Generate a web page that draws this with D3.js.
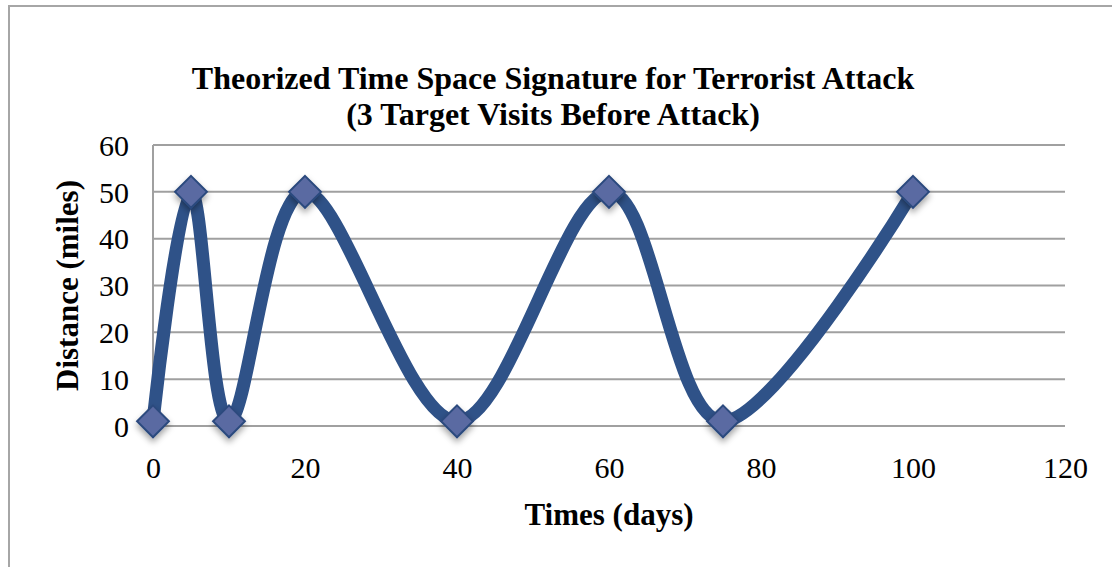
<!DOCTYPE html>
<html>
<head>
<meta charset="utf-8">
<script src="https://cdn.jsdelivr.net/npm/d3@7"></script>
<style>
  html, body { margin: 0; padding: 0; background: #fff; }
  svg { display: block; }
  text { font-family: "Liberation Serif", "Times New Roman", serif; fill: #000; }
</style>
</head>
<body>
<svg id="chart" width="1112" height="567"></svg>
<script>
const titleLines = ["Theorized Time Space Signature for Terrorist Attack", "(3 Target Visits Before Attack)"];
const xTitle = "Times (days)";
const yTitle = "Distance (miles)";
const days = [0, 5, 10, 20, 40, 60, 75, 100];
const distance = [1, 50, 1, 50, 1, 50, 1, 50];
const xTicks = [0, 20, 40, 60, 80, 100, 120];
const yTicks = [0, 10, 20, 30, 40, 50, 60];

const svg = d3.select("#chart");
const W = 1112, H = 567;
const plot = { left: 153, right: 1065, top: 145, bottom: 426 };

const x = d3.scaleLinear().domain([0, 120]).range([plot.left, plot.right]);
const y = d3.scaleLinear().domain([0, 60]).range([plot.bottom, plot.top]);

const defs = svg.append("defs");
const f = defs.append("filter").attr("id", "shadow").attr("x", "-50%").attr("y", "-50%").attr("width", "200%").attr("height", "200%");
f.append("feDropShadow").attr("dx", 0).attr("dy", 4).attr("stdDeviation", 3).attr("flood-color", "#000").attr("flood-opacity", 0.35);

// outer chart border
svg.append("path")
  .attr("d", `M9,${H} L9,6 L${W},6`)
  .attr("fill", "none").attr("stroke", "#a6a6a6").attr("stroke-width", 2);

// gridlines
svg.append("g")
  .selectAll("line").data(yTicks).join("line")
  .attr("x1", plot.left).attr("x2", plot.right)
  .attr("y1", d => y(d)).attr("y2", d => y(d))
  .attr("stroke", "#a0a0a0").attr("stroke-width", 2);

// left axis line
svg.append("line")
  .attr("x1", plot.left).attr("x2", plot.left)
  .attr("y1", plot.top).attr("y2", plot.bottom)
  .attr("stroke", "#a0a0a0").attr("stroke-width", 2);

// y tick labels
const yAxis = d3.axisLeft(y).tickValues(yTicks).tickSize(0).tickPadding(0);
const gy = svg.append("g").attr("transform", `translate(${plot.left - 24},0)`).call(yAxis);
gy.select(".domain").remove();
gy.selectAll("text").attr("font-size", 30).attr("font-family", "Liberation Serif").attr("fill", "#000").attr("dy", "0.34em");

// x tick labels
const xAxis = d3.axisBottom(x).tickValues(xTicks).tickSize(0).tickPadding(0);
const gx = svg.append("g").attr("transform", `translate(0,${plot.bottom + 30})`).call(xAxis);
gx.select(".domain").remove();
gx.selectAll("text").attr("font-size", 30).attr("font-family", "Liberation Serif").attr("fill", "#000").attr("dy", "0.72em");

// title
svg.append("g").selectAll("text").data(titleLines).join("text")
  .attr("x", (plot.left + plot.right) / 2 - 56)
  .attr("y", (d, i) => 89 + i * 36)
  .attr("text-anchor", "middle")
  .attr("font-size", 32)
  .attr("font-weight", "bold")
  .text(d => d);

// axis titles
svg.append("text")
  .attr("x", (plot.left + plot.right) / 2).attr("y", 525)
  .attr("text-anchor", "middle").attr("font-size", 31).attr("font-weight", "bold")
  .text(xTitle);
svg.append("text")
  .attr("transform", `translate(78,${(plot.top + plot.bottom) / 2}) rotate(-90)`)
  .attr("text-anchor", "middle").attr("font-size", 31).attr("font-weight", "bold")
  .text(yTitle);

// series
const pts = days.map((d, i) => [d, distance[i]]);
const line = d3.line().x(d => x(d[0])).y(d => y(d[1])).curve(d3.curveCardinal.tension(0));
svg.append("path").datum(pts)
  .attr("d", line)
  .attr("fill", "none").attr("stroke", "#2f5288").attr("stroke-width", 13)
  .attr("stroke-linejoin", "round").attr("stroke-linecap", "round");

const sym = d3.symbol().type(d3.symbolDiamond2).size(36 * 36 / 2);
svg.append("g").selectAll("path").data(pts).join("path")
  .attr("transform", d => `translate(${x(d[0])},${y(d[1])})`)
  .attr("d", sym)
  .attr("fill", "#5a6aa2").attr("stroke", "#2c4a7e").attr("stroke-width", 2)
  .attr("filter", "url(#shadow)");
</script>
</body>
</html>
